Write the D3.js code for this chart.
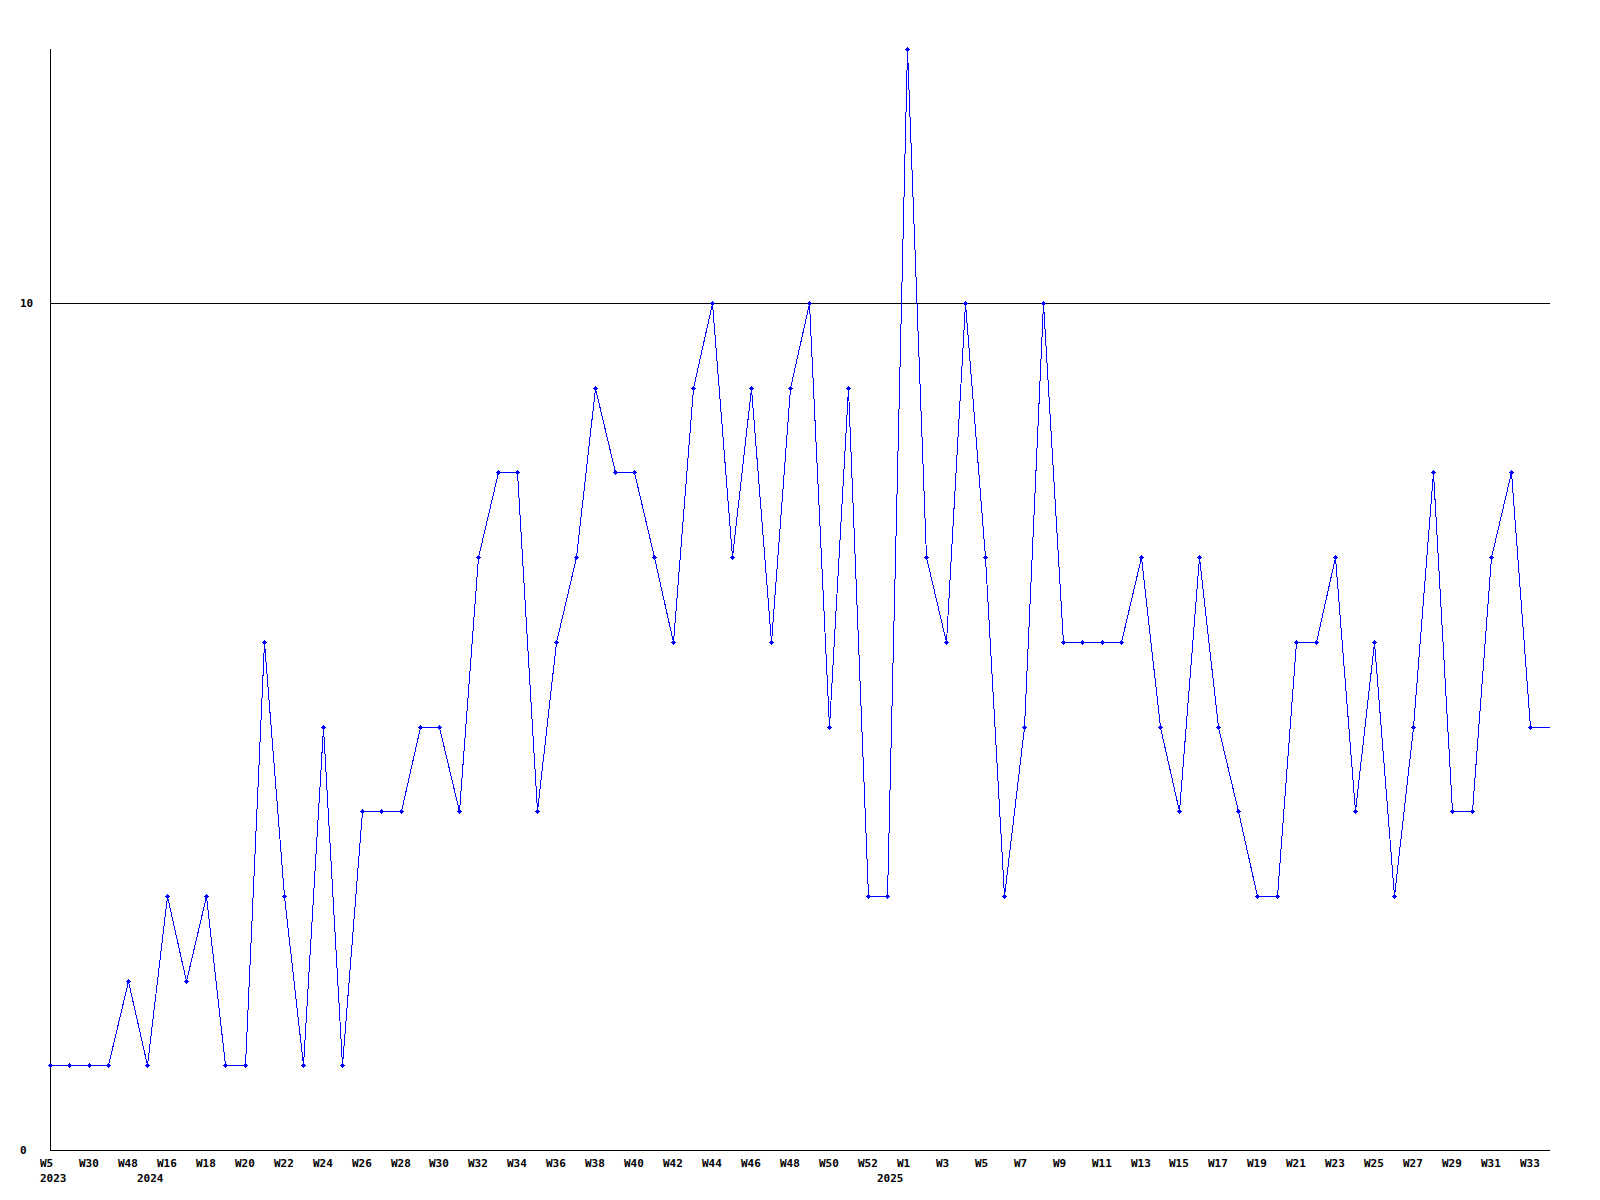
<!DOCTYPE html>
<html>
<head>
<meta charset="utf-8">
<script src="https://cdn.jsdelivr.net/npm/d3@7"></script>
<style>
  html, body { margin: 0; padding: 0; background: #ffffff; }
  svg { display: block; }
  text { font-family: "DejaVu Sans Mono", "Liberation Mono", monospace; font-weight: bold; font-size: 11px; fill: #000; }
</style>
</head>
<body>
<svg id="chart" width="1600" height="1200"></svg>
<script>
// ---- data ----
const years = [2023,2023,2023,2023,2023,
  2024,2024,2024,2024,2024,2024,2024,2024,2024,2024,2024,2024,2024,2024,2024,2024,2024,2024,2024,2024,2024,
  2024,2024,2024,2024,2024,2024,2024,2024,2024,2024,2024,2024,2024,2024,2024,2024,2024,
  2025,2025,2025,2025,2025,2025,2025,2025,2025,2025,2025,2025,2025,2025,2025,2025,2025,2025,2025,2025,2025,
  2025,2025,2025,2025,2025,2025,2025,2025,2025,2025,2025,2025,2025,2025];
const weeks = [5,20,30,41,48,
  6,16,17,18,19,20,21,22,23,24,25,26,27,28,29,30,31,32,33,34,35,
  36,37,38,39,40,41,42,43,44,45,46,47,48,49,50,51,52,
  0,1,2,3,4,5,6,7,8,9,10,11,12,13,14,15,16,17,18,19,20,21,22,23,24,25,26,27,28,29,30,31,32,33];
const values = [1,1,1,1,2,1,3,2,3,1,1,6,3,1,5,1,4,4,4,5,5,4,7,8,8,4,6,7,9,8,8,7,6,9,10,7,9,6,9,10,
  5,9,3,3,13,7,6,10,7,3,5,10,6,6,6,6,7,5,4,7,5,4,3,3,6,6,7,4,6,3,5,8,4,4,7,8,5];
const yTickValues = [0, 10];
const yMax = 13;

const data = values.map((v, i) => ({ id: i, year: years[i], week: weeks[i], value: v }));

// ---- layout ----
const svg = d3.select("#chart");
const plotLeft = 50, plotRight = 1550, lastPointX = 1530, plotTop = 49, plotBottom = 1150;

const x = d3.scalePoint().domain(data.map(d => d.id)).range([plotLeft, lastPointX]);
const y = d3.scaleLinear().domain([0, yMax]).range([plotBottom, plotTop]);
const px = v => Math.round(v) + 0.5;

// gridline at 10
svg.append("g").selectAll("line.grid").data(yTickValues.filter(t => t > 0)).join("line")
  .attr("x1", plotLeft).attr("x2", plotRight)
  .attr("y1", d => px(y(d))).attr("y2", d => px(y(d)))
  .attr("stroke", "#000").attr("stroke-width", 1).attr("shape-rendering", "crispEdges");

// axes lines
svg.append("line").attr("x1", px(plotLeft)).attr("x2", px(plotLeft))
  .attr("y1", y(yMax)).attr("y2", px(y(0)))
  .attr("stroke", "#000").attr("shape-rendering", "crispEdges");
svg.append("line").attr("x1", plotLeft).attr("x2", plotRight)
  .attr("y1", px(y(0))).attr("y2", px(y(0)))
  .attr("stroke", "#000").attr("shape-rendering", "crispEdges");

// y labels
svg.append("g").selectAll("text").data(yTickValues).join("text")
  .attr("x", 20).attr("y", d => Math.round(y(d)) + 4)
  .text(d => d);

// x week labels (every other point)
svg.append("g").selectAll("text").data(data.filter(d => d.id % 2 === 0)).join("text")
  .attr("x", d => Math.round(x(d.id)) - 10).attr("y", 1167)
  .text(d => "W" + d.week);

// year labels at first point of each year
svg.append("g").selectAll("text").data(data.filter((d, i) => i === 0 || years[i - 1] !== d.year)).join("text")
  .attr("x", d => Math.round(x(d.id)) - 10).attr("y", 1182)
  .text(d => d.year);

// line
const line = d3.line().x(d => px(x(d.id))).y(d => px(y(d.value)));
svg.append("path").datum(data).attr("d", line)
  .attr("fill", "none").attr("stroke", "#0000ff").attr("stroke-width", 1)
  .attr("shape-rendering", "crispEdges");

// trailing segment to plot edge
const last = data[data.length - 1];
svg.append("line")
  .attr("x1", px(x(last.id))).attr("x2", plotRight)
  .attr("y1", px(y(last.value))).attr("y2", px(y(last.value)))
  .attr("stroke", "#0000ff").attr("shape-rendering", "crispEdges");

// markers
svg.append("g").selectAll("path").data(data).join("path")
  .attr("transform", d => `translate(${Math.round(x(d.id))},${Math.round(y(d.value))})`)
  .attr("d", "M-2,0h5v1h-5z M0,-2h1v5h-1z M-1,-1h3v3h-3z")
  .attr("fill", "#0000ff").attr("shape-rendering", "crispEdges");
</script>
</body>
</html>
